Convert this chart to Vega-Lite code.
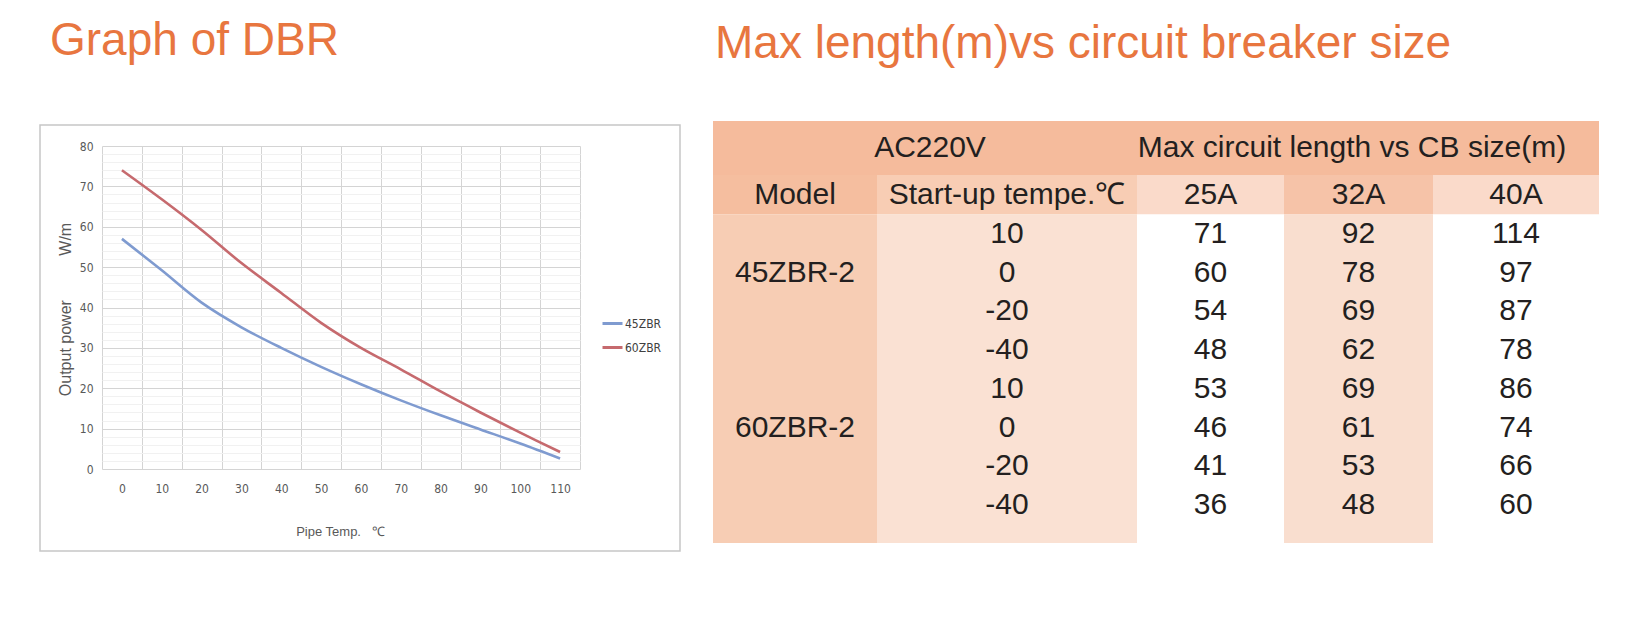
{
  "$schema": "https://vega.github.io/schema/vega-lite/v6.json",
  "background": "white",
  "padding": {"left": 39, "top": 17, "right": 0, "bottom": 0},
  "spacing": 32,
  "config": {"view": {"stroke": null}, "font": "Liberation Sans"},
  "datasets": {
    "power": [
      {"series": "45ZBR", "temp": 0, "power": 57},
      {"series": "45ZBR", "temp": 10, "power": 49.2},
      {"series": "45ZBR", "temp": 20, "power": 41.2},
      {"series": "45ZBR", "temp": 30, "power": 35.1},
      {"series": "45ZBR", "temp": 40, "power": 30},
      {"series": "45ZBR", "temp": 50, "power": 25.3},
      {"series": "45ZBR", "temp": 60, "power": 21},
      {"series": "45ZBR", "temp": 70, "power": 17},
      {"series": "45ZBR", "temp": 80, "power": 13.3},
      {"series": "45ZBR", "temp": 90, "power": 9.8},
      {"series": "45ZBR", "temp": 100, "power": 6.3},
      {"series": "45ZBR", "temp": 110, "power": 2.6},
      {"series": "60ZBR", "temp": 0, "power": 74},
      {"series": "60ZBR", "temp": 10, "power": 66.8},
      {"series": "60ZBR", "temp": 20, "power": 59.2},
      {"series": "60ZBR", "temp": 30, "power": 51},
      {"series": "60ZBR", "temp": 40, "power": 43.6},
      {"series": "60ZBR", "temp": 50, "power": 36.2},
      {"series": "60ZBR", "temp": 60, "power": 30},
      {"series": "60ZBR", "temp": 70, "power": 24.7},
      {"series": "60ZBR", "temp": 80, "power": 19.2},
      {"series": "60ZBR", "temp": 90, "power": 14},
      {"series": "60ZBR", "temp": 100, "power": 9},
      {"series": "60ZBR", "temp": 110, "power": 4.2}
    ],
    "cells": [
      {"kind": "group header", "c0": -0.5, "c1": 4.5, "r0": -0.5, "r1": 0.5},
      {"kind": "model header", "c0": -0.5, "c1": 0.5, "r0": 0.5, "r1": 1.5},
      {"kind": "temp header", "c0": 0.5, "c1": 1.5, "r0": 0.5, "r1": 1.5},
      {"kind": "breaker header A", "c0": 1.5, "c1": 2.5, "r0": 0.5, "r1": 1.5},
      {"kind": "breaker header B", "c0": 2.5, "c1": 3.5, "r0": 0.5, "r1": 1.5},
      {"kind": "breaker header A", "c0": 3.5, "c1": 4.5, "r0": 0.5, "r1": 1.5},
      {"kind": "model", "c0": -0.5, "c1": 0.5, "r0": 1.5, "r1": 10.5},
      {"kind": "temperature", "c0": 0.5, "c1": 1.5, "r0": 1.5, "r1": 10.5},
      {"kind": "breaker A", "c0": 1.5, "c1": 2.5, "r0": 1.5, "r1": 10.5},
      {"kind": "breaker B", "c0": 2.5, "c1": 3.5, "r0": 1.5, "r1": 10.5},
      {"kind": "breaker A", "c0": 3.5, "c1": 4.5, "r0": 1.5, "r1": 10.5}
    ],
    "texts": [
      {"row": 1, "col": 0, "label": "Model"},
      {"row": 1, "col": 1, "label": "Start-up tempe.℃"},
      {"row": 1, "col": 2, "label": "25A"},
      {"row": 1, "col": 3, "label": "32A"},
      {"row": 1, "col": 4, "label": "40A"},
      {"row": 3, "col": 0, "label": "45ZBR-2"},
      {"row": 7, "col": 0, "label": "60ZBR-2"},
      {"row": 2, "col": 1, "label": "10"},
      {"row": 3, "col": 1, "label": "0"},
      {"row": 4, "col": 1, "label": "-20"},
      {"row": 5, "col": 1, "label": "-40"},
      {"row": 6, "col": 1, "label": "10"},
      {"row": 7, "col": 1, "label": "0"},
      {"row": 8, "col": 1, "label": "-20"},
      {"row": 9, "col": 1, "label": "-40"},
      {"row": 2, "col": 2, "label": "71"},
      {"row": 3, "col": 2, "label": "60"},
      {"row": 4, "col": 2, "label": "54"},
      {"row": 5, "col": 2, "label": "48"},
      {"row": 6, "col": 2, "label": "53"},
      {"row": 7, "col": 2, "label": "46"},
      {"row": 8, "col": 2, "label": "41"},
      {"row": 9, "col": 2, "label": "36"},
      {"row": 2, "col": 3, "label": "92"},
      {"row": 3, "col": 3, "label": "78"},
      {"row": 4, "col": 3, "label": "69"},
      {"row": 5, "col": 3, "label": "62"},
      {"row": 6, "col": 3, "label": "69"},
      {"row": 7, "col": 3, "label": "61"},
      {"row": 8, "col": 3, "label": "53"},
      {"row": 9, "col": 3, "label": "48"},
      {"row": 2, "col": 4, "label": "114"},
      {"row": 3, "col": 4, "label": "97"},
      {"row": 4, "col": 4, "label": "87"},
      {"row": 5, "col": 4, "label": "78"},
      {"row": 6, "col": 4, "label": "86"},
      {"row": 7, "col": 4, "label": "74"},
      {"row": 8, "col": 4, "label": "66"},
      {"row": 9, "col": 4, "label": "60"}
    ],
    "groups": [
      {"group": 0, "row": 0, "label": "AC220V"},
      {"group": 1, "row": 0, "label": "Max circuit length vs CB size(m)"}
    ]
  },
  "hconcat": [
    {
      "width": 640,
      "height": 426,
      "view": {"stroke": "#c6c6c6", "strokeWidth": 1.5},
      "title": {"text": "Graph of DBR", "anchor": "start", "dx": 10, "offset": 24, "fontSize": 46, "fontWeight": "normal", "color": "#E8763F", "font": "Liberation Sans", "baseline": "alphabetic"},
      "data": {"name": "power"},
      "layer": [
        {
          "transform": [{"filter": "datum.series === '45ZBR'"}],
          "mark": {"type": "line", "interpolate": "catmull-rom", "strokeWidth": 2.6},
          "encoding": {
            "x": {
              "field": "temp", "type": "quantitative",
              "scale": {"domain": [-5, 115], "range": [62, 540], "nice": false, "zero": false},
              "axis": {
                "orient": "bottom",
                "values": [0, 10, 20, 30, 40, 50, 60, 70, 80, 90, 100, 110],
                "grid": false, "ticks": false, "domain": false, "offset": -82,
                "labelPadding": 14, "labelFontSize": 12, "labelColor": "#595959",
                "labelFont": "'Liberation Sans Narrow', 'DejaVu Sans Condensed', sans-serif",
                "title": "Pipe Temp.\u00a0\u00a0\u00a0℃", "titleX": 300, "titleY": 62, "titleBaseline": "middle",
                "titleFontSize": 13, "titleFontWeight": "normal", "titleColor": "#595959",
                "titleFont": "Liberation Sans"
              }
            },
            "y": {
              "field": "power", "type": "quantitative",
              "scale": {"domain": [0, 80], "range": [344, 21], "nice": false, "zero": false},
              "axis": {
                "orient": "left",
                "values": [0, 10, 20, 30, 40, 50, 60, 70, 80],
                "grid": true, "gridColor": "#d4d4d4", "gridWidth": 1,
                "ticks": false, "domain": false, "offset": -62,
                "labelPadding": 9, "labelFontSize": 12, "labelColor": "#595959",
                "labelFont": "'Liberation Sans Narrow', 'DejaVu Sans Condensed', sans-serif",
                "title": "Output power\u00a0\u00a0\u00a0\u00a0\u00a0\u00a0\u00a0\u00a0\u00a0\u00a0W/m", "titleX": -37, "titleY": 184, "titleAngle": -90,
                "titleBaseline": "middle", "titleFontSize": 16, "titleFontWeight": "normal", "titleColor": "#595959",
                "titleFont": "Liberation Sans"
              }
            },
            "color": {
              "field": "series", "type": "nominal",
              "scale": {"domain": ["45ZBR", "60ZBR"], "range": ["#7f9bd0", "#c66a6e"]},
              "legend": {
                "title": null, "orient": "none", "legendX": 561, "legendY": 187,
                "symbolType": "stroke", "symbolSize": 400, "symbolStrokeWidth": 3,
                "labelFontSize": 12, "labelColor": "#404040", "rowPadding": 6, "labelOffset": 1,
                "labelFont": "'Liberation Sans Narrow', 'DejaVu Sans Condensed', sans-serif"
              }
            }
          }
        },
        {
          "transform": [{"filter": "datum.series === '60ZBR'"}],
          "mark": {"type": "line", "interpolate": "catmull-rom", "strokeWidth": 2.6},
          "encoding": {
            "x": {
              "field": "temp", "type": "quantitative",
              "scale": {"domain": [-5, 115], "range": [62, 540], "nice": false, "zero": false},
              "axis": {
                "orient": "top",
                "values": [-5, 5, 15, 25, 35, 45, 55, 65, 75, 85, 95, 105, 115],
                "grid": true, "gridColor": "#d4d4d4", "gridWidth": 1,
                "labels": false, "ticks": false, "domain": false, "title": null
              }
            },
            "y": {
              "field": "power", "type": "quantitative",
              "scale": {"domain": [0, 80], "range": [344, 21], "nice": false, "zero": false},
              "axis": {
                "orient": "left", "offset": -62,
                "values": [2, 4, 6, 8, 12, 14, 16, 18, 22, 24, 26, 28, 32, 34, 36, 38, 42, 44, 46, 48, 52, 54, 56, 58, 62, 64, 66, 68, 72, 74, 76, 78],
                "grid": true, "gridColor": "#f1f1f1", "gridWidth": 1,
                "labels": false, "ticks": false, "domain": false, "title": null
              }
            },
            "color": {
              "field": "series", "type": "nominal",
              "scale": {"domain": ["45ZBR", "60ZBR"], "range": ["#7f9bd0", "#c66a6e"]},
              "legend": {
                "title": null, "orient": "none", "legendX": 561, "legendY": 187,
                "symbolType": "stroke", "symbolSize": 400, "symbolStrokeWidth": 3,
                "labelFontSize": 12, "labelColor": "#404040", "rowPadding": 6, "labelOffset": 1,
                "labelFont": "'Liberation Sans Narrow', 'DejaVu Sans Condensed', sans-serif"
              }
            }
          }
        }
      ],
      "resolve": {"axis": {"x": "independent", "y": "independent"}}
    },
    {
      "width": 886,
      "height": 418,
      "title": {"text": "Max length(m)vs circuit breaker size", "anchor": "start", "dx": 2, "offset": 17, "fontSize": 46, "fontWeight": "normal", "color": "#E8763F", "font": "Liberation Sans", "baseline": "alphabetic"},
      "layer": [
        {
          "data": {"name": "cells"},
          "mark": {"type": "rect", "strokeWidth": 0},
          "encoding": {
            "x": {"field": "c0", "type": "quantitative", "scale": {"domain": [-0.5, 0.5, 1.5, 2.5, 3.5, 4.5], "range": [0, 164, 424, 571, 720, 886], "nice": false, "zero": false}, "axis": null},
            "x2": {"field": "c1"},
            "y": {"field": "r0", "type": "quantitative", "scale": {"domain": [-0.5, 0.5, 1.5, 9.5, 10.5], "range": [-4, 50, 89.5, 399.5, 418], "nice": false, "zero": false}, "axis": null},
            "y2": {"field": "r1"},
            "fill": {
              "field": "kind", "type": "nominal",
              "scale": {
                "domain": ["group header", "model header", "temp header", "breaker header A", "breaker header B", "model", "temperature", "breaker A", "breaker B"],
                "range": ["#F5BB9C", "#F5BE9F", "#F8CDB4", "#FADACA", "#F6C3A8", "#F7CDB4", "#FAE1D3", "#FFFFFF", "#F9DECF"]
              },
              "legend": null
            }
          }
        },
        {
          "data": {"name": "texts"},
          "mark": {"type": "text", "fontSize": 30, "font": "Liberation Sans", "color": "#231f20", "baseline": "middle", "align": "center"},
          "encoding": {
            "x": {"field": "col", "type": "quantitative", "scale": {"domain": [-0.5, 0.5, 1.5, 2.5, 3.5, 4.5], "range": [0, 164, 424, 571, 720, 886], "nice": false, "zero": false}, "axis": null},
            "y": {"field": "row", "type": "quantitative", "scale": {"domain": [-0.5, 0.5, 1.5, 9.5, 10.5], "range": [-4, 50, 89.5, 399.5, 418], "nice": false, "zero": false}, "axis": null},
            "text": {"field": "label", "type": "nominal"}
          }
        },
        {
          "data": {"name": "groups"},
          "mark": {"type": "text", "fontSize": 30, "font": "Liberation Sans", "color": "#231f20", "baseline": "middle", "align": "center"},
          "encoding": {
            "x": {"field": "group", "type": "quantitative", "scale": {"domain": [-0.5, 0.5, 1.5], "range": [10, 424, 854], "nice": false, "zero": false}, "axis": null},
            "y": {"field": "row", "type": "quantitative", "scale": {"domain": [-0.5, 0.5, 1.5, 9.5, 10.5], "range": [-4, 50, 89.5, 399.5, 418], "nice": false, "zero": false}, "axis": null},
            "text": {"field": "label", "type": "nominal"}
          }
        }
      ],
      "resolve": {"scale": {"x": "independent"}}
    }
  ]
}
